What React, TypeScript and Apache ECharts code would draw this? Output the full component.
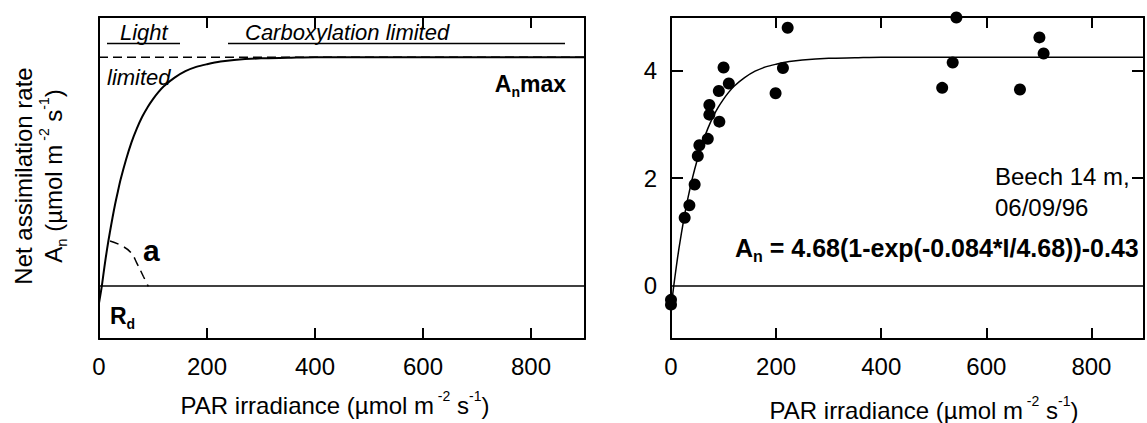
import React, { useEffect, useRef } from "react";
import * as echarts from "echarts";

// ---- data ----
const xMaxLabel = 800;
const yLabelValues = [0, 2, 4];
const yTickValues = [2, 4];

// light-response curve (PAR, An)
const curveI = [0, 5, 10, 15, 20, 25, 30, 35, 40, 50, 60, 70, 80, 90, 100, 110, 120, 140, 160, 180, 200, 225, 250, 300, 350, 400, 500, 600, 900];
const fitA = [-0.43, -0.03, 0.34, 0.68, 0.98, 1.26, 1.52, 1.75, 1.97, 2.34, 2.66, 2.92, 3.14, 3.32, 3.47, 3.6, 3.71, 3.87, 3.99, 4.07, 4.12, 4.17, 4.2, 4.23, 4.24, 4.25, 4.25, 4.25, 4.25];
const conceptA = [-0.33, -0.03, 0.34, 0.68, 0.98, 1.26, 1.52, 1.75, 1.97, 2.34, 2.66, 2.92, 3.14, 3.32, 3.47, 3.6, 3.71, 3.87, 3.99, 4.07, 4.12, 4.17, 4.2, 4.23, 4.24, 4.25, 4.25, 4.25, 4.25];

// An max asymptote (dashed)
const asymptoteI = [0, 900];
const asymptoteA = [4.25, 4.25];

// quantum-efficiency arc "a"
const arcI = [20.4, 40.7, 59.3, 69.8, 82, 91.3];
const arcA = [0.825, 0.745, 0.61, 0.42, 0.17, -0.02];

// observations, Beech 14 m, 06/09/96
const obsI = [0, 0, 26, 35, 45, 51, 54, 70, 73, 73, 92, 91, 100, 110, 199, 213, 222, 516, 536, 543, 664, 701, 709];
const obsA = [-0.27, -0.36, 1.26, 1.49, 1.88, 2.41, 2.61, 2.73, 3.18, 3.36, 3.05, 3.62, 4.06, 3.76, 3.58, 4.05, 4.8, 3.68, 4.15, 4.99, 3.65, 4.62, 4.32];

const FONT = "Liberation Sans, Arial, Helvetica, sans-serif";
const zip = (a: number[], b: number[]) => a.map((v, i) => [v, b[i]]);

const X_MIN = 0, X_MAX = 900, Y_MIN = -1, Y_MAX = 5;

const axisLine = { show: true, onZero: false, lineStyle: { color: "#000", width: 2 } };
const tickStyle = { color: "#000", width: 2 };

function xAxesFor(gridIndex: number) {
  return [
    {
      type: "value", gridIndex, position: "bottom", min: X_MIN, max: X_MAX, interval: 200,
      axisLine,
      axisTick: { show: true, inside: true, length: 11, lineStyle: tickStyle },
      axisLabel: {
        show: true, fontSize: 24, color: "#000", fontFamily: FONT, margin: 15,
        formatter: (v: number) => (v > xMaxLabel ? "" : String(v)),
      },
      splitLine: { show: false },
    },
    {
      type: "value", gridIndex, position: "top", min: X_MIN, max: X_MAX, interval: 200,
      axisLine,
      axisTick: { show: true, inside: true, length: 11, lineStyle: tickStyle },
      axisLabel: { show: false },
      splitLine: { show: false },
    },
  ];
}

function yAxesFor(gridIndex: number, withTicks: boolean) {
  return [
    {
      type: "value", gridIndex, position: "left", min: Y_MIN, max: Y_MAX,
      axisLine,
      axisTick: { show: withTicks, inside: true, length: 12, lineStyle: tickStyle, customValues: yTickValues },
      axisLabel: { show: withTicks, customValues: yLabelValues, fontSize: 24, color: "#000", fontFamily: FONT, margin: 14 },
      splitLine: { show: false },
    },
    {
      type: "value", gridIndex, position: "right", min: Y_MIN, max: Y_MAX,
      axisLine,
      axisTick: { show: withTicks, inside: true, length: 12, lineStyle: tickStyle, customValues: yTickValues },
      axisLabel: { show: false },
      splitLine: { show: false },
    },
  ];
}

const zeroLineMark = {
  silent: true, symbol: "none", label: { show: false },
  lineStyle: { color: "#000", width: 1.5, type: "solid" },
  data: [{ yAxis: 0 }],
};

const txt = (x: number, y: number, text: string, extra: any = {}) => ({
  type: "text", x, y, silent: true,
  style: { text, fill: "#000", fontFamily: FONT, fontSize: 24, align: "left", verticalAlign: "middle", ...extra },
});

const richBase = (size: number, weight: string) => ({
  m: { fontSize: size, fontWeight: weight, fontFamily: FONT, fill: "#000" },
  sub: { fontSize: Math.round(size * 0.62), fontWeight: weight, fontFamily: FONT, fill: "#000", padding: [16, 0, 0, 0] },
  sup: { fontSize: Math.round(size * 0.6), fontWeight: weight, fontFamily: FONT, fill: "#000", padding: [0, 0, 18, 0] },
});

const parTitle = "{m|PAR irradiance (µmol m}{sup| -2}{m| s}{sup|-1}{m|)}";

const option: any = {
  animation: false,
  backgroundColor: "#fff",
  grid: [
    { left: 99, top: 17, width: 486, height: 322 },
    { left: 671, top: 17, width: 487, height: 322 },
  ],
  xAxis: [...xAxesFor(0), ...xAxesFor(1)],
  yAxis: [...yAxesFor(0, false), ...yAxesFor(1, true)],
  series: [
    {
      type: "line", xAxisIndex: 0, yAxisIndex: 0, data: zip(asymptoteI, asymptoteA),
      showSymbol: false, silent: true, lineStyle: { color: "#000", width: 1.5, type: [9, 5] },
    },
    {
      type: "line", xAxisIndex: 0, yAxisIndex: 0, data: zip(curveI, conceptA),
      showSymbol: false, silent: true, smooth: 0.3, lineStyle: { color: "#000", width: 2 },
      markLine: zeroLineMark,
    },
    {
      type: "line", xAxisIndex: 0, yAxisIndex: 0, data: zip(arcI, arcA),
      showSymbol: false, silent: true, smooth: 0.4, lineStyle: { color: "#000", width: 1.5, type: [9, 6] },
    },
    {
      type: "line", xAxisIndex: 2, yAxisIndex: 2, data: zip(curveI, fitA),
      showSymbol: false, silent: true, smooth: 0.3, lineStyle: { color: "#000", width: 1.5 },
      markLine: zeroLineMark,
    },
    {
      type: "scatter", xAxisIndex: 2, yAxisIndex: 2, data: zip(obsI, obsA),
      symbol: "circle", symbolSize: 12, itemStyle: { color: "#000", opacity: 1 }, silent: true,
    },
  ],
  graphic: [
    // left panel annotations
    txt(120, 32, "Light", { fontStyle: "italic", fontSize: 22 }),
    { type: "line", silent: true, shape: { x1: 107, y1: 43.5, x2: 180, y2: 43.5 }, style: { stroke: "#000", lineWidth: 1.5 } },
    txt(245, 32, "Carboxylation limited", { fontStyle: "italic", fontSize: 22 }),
    { type: "line", silent: true, shape: { x1: 228, y1: 43.5, x2: 565, y2: 43.5 }, style: { stroke: "#000", lineWidth: 1.5 } },
    txt(107, 77, "limited", { fontStyle: "italic", fontSize: 22 }),
    {
      type: "text", x: 566, y: 84, silent: true,
      style: { text: "{m|A}{sub|n}{m|max}", rich: richBase(23, "bold"), align: "right", verticalAlign: "middle" },
    },
    txt(143, 250, "a", { fontSize: 30, fontWeight: 900 }),
    {
      type: "text", x: 110, y: 316, silent: true,
      style: { text: "{m|R}{sub|d}", rich: richBase(23, "bold"), align: "left", verticalAlign: "middle" },
    },
    // left y title (rotated)
    {
      type: "text", x: 23, y: 176, rotation: Math.PI / 2, silent: true,
      style: { text: "Net assimilation rate", fill: "#000", fontFamily: FONT, fontSize: 24, align: "center", verticalAlign: "middle" },
    },
    {
      type: "text", x: 53, y: 176, rotation: Math.PI / 2, silent: true,
      style: { text: "{m|A}{sub|n}{m| (µmol m}{sup| -2}{m| s}{sup|-1}{m|)}", rich: richBase(24, "normal"), align: "center", verticalAlign: "middle" },
    },
    // x titles
    {
      type: "text", x: 335, y: 405, silent: true,
      style: { text: parTitle, rich: richBase(24, "normal"), align: "center", verticalAlign: "middle" },
    },
    {
      type: "text", x: 924, y: 410, silent: true,
      style: { text: parTitle, rich: richBase(24, "normal"), align: "center", verticalAlign: "middle" },
    },
    // right panel annotations
    txt(995, 176, "Beech 14 m,"),
    txt(995, 207, "06/09/96"),
    {
      type: "text", x: 735, y: 248, silent: true,
      style: { text: "{m|A}{sub|n}{m| = 4.68(1-exp(-0.084*I/4.68))-0.43}", rich: richBase(25, "bold"), align: "left", verticalAlign: "middle" },
    },
  ],
};

export default function App() {
  const ref = useRef<HTMLDivElement>(null);
  useEffect(() => {
    const chart = echarts.init(ref.current!, null, { renderer: "svg" });
    chart.setOption(option);
    return () => chart.dispose();
  }, []);
  return <div ref={ref} style={{ position: "absolute", left: 0, top: 0, width: 1147, height: 423 }} />;
}
